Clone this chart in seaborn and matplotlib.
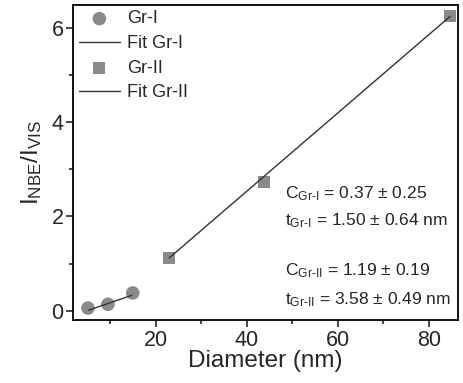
import matplotlib
matplotlib.use("Agg")
import matplotlib.pyplot as plt
import seaborn as sns
from matplotlib.ticker import MultipleLocator

sns.set_style("ticks")
plt.rcParams['font.family'] = ['Liberation Sans', 'DejaVu Sans']
plt.rcParams['mathtext.fontset'] = 'custom'
plt.rcParams['mathtext.rm'] = 'Liberation Sans'
plt.rcParams['mathtext.it'] = 'Liberation Sans'

gr1_d = [5.05, 9.45, 14.9]
gr1_r = [0.06, 0.14, 0.38]
gr2_d = [22.9, 43.8, 84.7]
gr2_r = [1.12, 2.73, 6.24]
fit1_d = [5.2, 14.7]
fit1_r = [0.015, 0.33]
fit2_d = [22.9, 84.7]
fit2_r = [1.12, 6.24]

fig = plt.figure(figsize=(4.63, 3.83), dpi=100)
ax = fig.add_axes([0.158, 0.164, 0.831, 0.823])

gray = "#8a8a8a"
sns.scatterplot(x=gr1_d, y=gr1_r, ax=ax, marker='o', s=95, color=gray, edgecolor='none', label='Gr-I', zorder=3)
sns.lineplot(x=fit1_d, y=fit1_r, ax=ax, color='#333333', lw=1.0, label='Fit Gr-I', zorder=4)
sns.scatterplot(x=gr2_d, y=gr2_r, ax=ax, marker='s', s=72, color=gray, edgecolor='none', label='Gr-II', zorder=3)
sns.lineplot(x=fit2_d, y=fit2_r, ax=ax, color='#333333', lw=1.0, label='Fit Gr-II', zorder=4)

ax.set_xlim(1.8, 86.4)
ax.set_ylim(-0.197, 6.48)
ax.xaxis.set_major_locator(MultipleLocator(20))
ax.xaxis.set_minor_locator(MultipleLocator(10))
ax.yaxis.set_major_locator(MultipleLocator(2))
ax.yaxis.set_minor_locator(MultipleLocator(1))
ax.tick_params(which='major', length=5, width=1.2, labelsize=15.5, direction='out', pad=2)
ax.tick_params(which='minor', length=3, width=1.2, direction='out')
for s in ax.spines.values():
    s.set_linewidth(1.3)
    s.set_color('black')

ax.set_xlabel('Diameter (nm)', fontsize=17.5, labelpad=-1)
ax.set_ylabel(r'$\mathregular{I_{NBE}/I_{VIS}}$', fontsize=17.5, labelpad=5)

leg = ax.legend(loc='upper left', frameon=False, fontsize=13, handlelength=2.3,
                labelspacing=0.42, borderaxespad=0.3, borderpad=0.0, handletextpad=0.4)

txt_kw = dict(transform=ax.transData, fontsize=12.5, ha='left', va='baseline')
ax.text(48.4, 2.38, r'$\mathregular{C_{Gr\text{-}I}}$ = 0.37 ± 0.25', **txt_kw)
ax.text(48.4, 1.81, r'$\mathregular{t_{Gr\text{-}I}}$ = 1.50 ± 0.64 nm', **txt_kw)
ax.text(48.4, 0.75, r'$\mathregular{C_{Gr\text{-}II}}$ = 1.19 ± 0.19', **txt_kw)
ax.text(48.4, 0.14, r'$\mathregular{t_{Gr\text{-}II}}$ = 3.58 ± 0.49 nm', **txt_kw)

fig.savefig('out.png', dpi=100)
